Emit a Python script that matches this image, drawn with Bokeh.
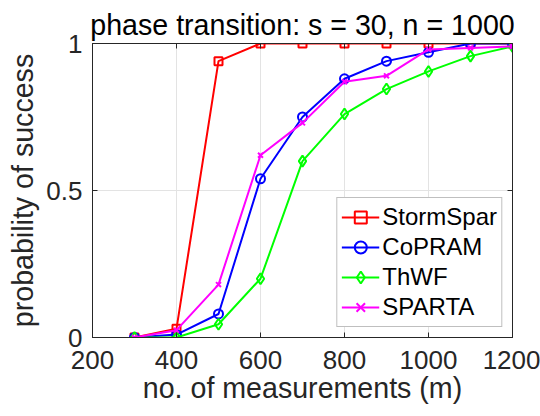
from bokeh.plotting import figure
from bokeh.models import Range1d, FixedTicker, LinearAxis, Legend
from bokeh.embed import file_html
from bokeh.resources import INLINE

# ---- data ----
m_vals = [300, 400, 500, 600, 700, 800, 900, 1000, 1100, 1200]
stormspar = [0.0, 0.03, 0.94, 1.0, 1.0, 1.0, 1.0, 1.0, 1.0, 1.0]
copram = [0.0, 0.01, 0.08, 0.54, 0.75, 0.88, 0.94, 0.97, 1.0, 1.0]
thwf = [0.0, 0.0, 0.045, 0.20, 0.60, 0.76, 0.845, 0.905, 0.957, 0.99]
sparta = [0.0, 0.025, 0.18, 0.62, 0.73, 0.87, 0.89, 0.98, 0.985, 0.99]
x_ticks = [200, 400, 600, 800, 1000, 1200]
y_ticks = [0, 0.5, 1]
y_tick_labels = {0: "0", 0.5: "0.5", 1: "1"}
title_text = "phase transition: s = 30, n = 1000"
x_label = "no. of measurements (m)"
y_label = "probability of success"

FONT = "Liberation Sans"
AXC = "#262626"

p = figure(width=540, height=416, output_backend="svg", toolbar_location=None,
           x_range=Range1d(200, 1200), y_range=Range1d(0, 1),
           min_border_left=92, min_border_right=28, min_border_top=43, min_border_bottom=79)
p.background_fill_color = "white"
p.border_fill_color = "white"
p.outline_line_color = AXC
p.outline_line_width = 1

p.title.text = title_text
p.title.align = "center"
p.title.text_font = FONT
p.title.text_font_size = "28.6px"
p.title.text_font_style = "normal"
p.title.text_color = "black"
p.title.standoff = 6

for ax in [p.xaxis[0], p.yaxis[0]]:
    ax.major_tick_in = 5
    ax.major_tick_out = 0
    ax.minor_tick_line_color = None
    ax.axis_line_color = AXC
    ax.major_tick_line_color = AXC
    ax.major_label_text_font = FONT
    ax.major_label_text_font_size = "26px"
    ax.major_label_text_color = AXC
    ax.axis_label_text_font = FONT
    ax.axis_label_text_font_size = "28.6px"
    ax.axis_label_text_font_style = "normal"
    ax.axis_label_text_color = AXC

p.xaxis.ticker = FixedTicker(ticks=x_ticks)
p.yaxis.ticker = FixedTicker(ticks=y_ticks)
p.yaxis.major_label_overrides = y_tick_labels
p.xaxis.axis_label = x_label
p.yaxis.axis_label = y_label
p.xaxis.major_label_standoff = 13
p.xaxis.axis_label_standoff = 0
p.yaxis.major_label_standoff = 10
p.yaxis.axis_label_standoff = 4

# box axes (top / right) with inward ticks, labels not drawn
for loc, ticks in [("above", x_ticks), ("right", y_ticks)]:
    a = LinearAxis(ticker=FixedTicker(ticks=ticks))
    a.major_tick_in = 5
    a.major_tick_out = 0
    a.minor_tick_line_color = None
    a.axis_line_color = AXC
    a.major_tick_line_color = AXC
    a.major_label_text_font_size = "1px"
    a.major_label_text_color = None
    a.major_label_standoff = 0
    p.add_layout(a, loc)

p.xgrid.ticker = FixedTicker(ticks=x_ticks)
p.ygrid.ticker = FixedTicker(ticks=y_ticks)
p.grid.grid_line_color = "#e3e3e3"
p.grid.grid_line_width = 1

series = [
    ("StormSpar", stormspar, "#ff0000", "square", 8),
    ("CoPRAM", copram, "#0000ff", "circle", 9),
    ("ThWF", thwf, "#00ff00", "diamond", 11),
    ("SPARTA", sparta, "#ff00ff", "x", 7),
]
items = []
for name, ys, col, mk, sz in series:
    r1 = p.line(m_vals, ys, line_color=col, line_width=2)
    r2 = p.scatter(m_vals, ys, marker=mk, size=sz, line_color=col, line_width=2,
                   fill_color=None)
    items.append((name, [r1, r2]))

legend = Legend(items=items, location="bottom_right")
legend.label_text_font = FONT
legend.label_text_font_size = "24px"
legend.label_text_color = "black"
legend.label_height = 30
legend.glyph_height = 30
legend.glyph_width = 38
legend.label_standoff = 3
legend.spacing = 0
legend.padding = 4
legend.margin = 10
legend.border_line_color = "#7f7f7f"
legend.border_line_width = 1
legend.background_fill_color = "white"
legend.background_fill_alpha = 1
p.add_layout(legend, "center")

open("out.html", "w").write(file_html(p, INLINE))
